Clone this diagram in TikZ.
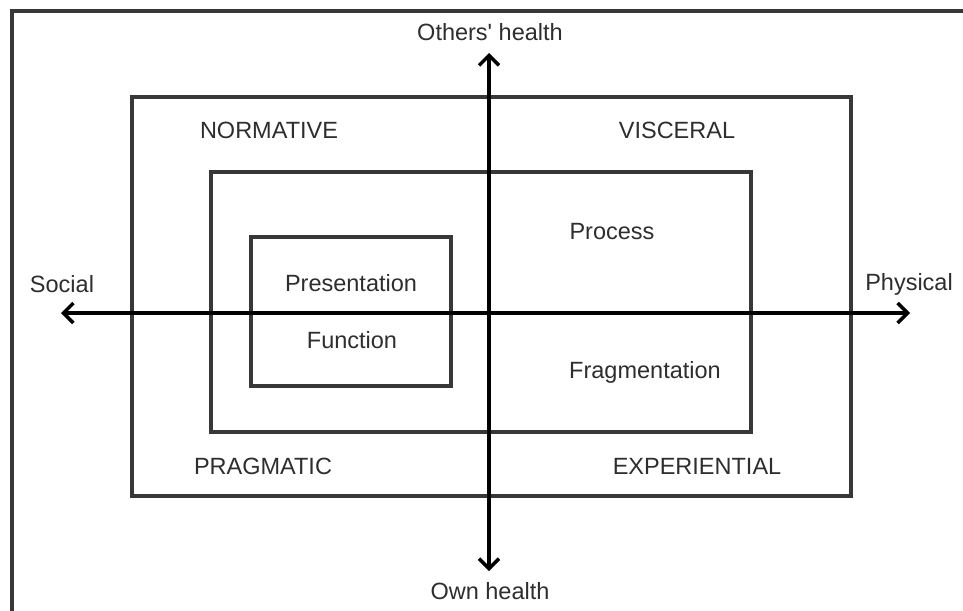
\documentclass[tikz,border=0pt]{standalone}
\usepackage{fontspec}
\setmainfont{Liberation Sans}
\usetikzlibrary{arrows.meta}
\begin{document}
\begin{tikzpicture}[x=1pt,y=-1pt,
  boxline/.style={draw=black!78, line width=3.4pt},
  axis/.style={draw=black, line width=3.4pt, {Straight Barb[length=10pt,width=20pt,line width=3.4pt]}-{Straight Barb[length=10pt,width=20pt,line width=3.4pt]}},
  lbl/.style={font=\fontsize{23.5}{26}\selectfont, text=black!82, inner sep=0pt}
]
\useasboundingbox (0,0) rectangle (963,610);
\fill[white] (0,0) rectangle (963,610);
% frame
\draw[boxline] (12,612) -- (12,11) -- (965,11);
% boxes
\node[boxline, minimum width=719pt, minimum height=399pt, inner sep=0pt] (outer) at (491.5,296.5) {};
\node[boxline, minimum width=540pt, minimum height=260pt, inner sep=0pt] (middle) at (481,302) {};
\node[boxline, minimum width=200pt, minimum height=149pt, inner sep=0pt] (inner) at (351,311.5) {};
% axes
\coordinate (top) at (489,53);
\coordinate (bottom) at (489,571);
\coordinate (left) at (61,313);
\coordinate (right) at (910,313);
\draw[axis] (bottom) -- (top);
\draw[axis] (left) -- (right);
% labels
\node[lbl] (others) at (490,32) {Others\textquotesingle\ health};
\node[lbl] (own) at (490,591) {Own health};
\node[lbl] (social) at (62,284) {Social};
\node[lbl] (physical) at (909,284) {Physical};
\node[lbl] (normative) at (269,130) {NORMATIVE};
\node[lbl] (visceral) at (677,130) {VISCERAL};
\node[lbl] (pragmatic) at (263,466) {PRAGMATIC};
\node[lbl] (experiential) at (697,466) {EXPERIENTIAL};
\node[lbl] (process) at (612,232) {Process};
\node[lbl] (fragmentation) at (645,372) {Fragmentation};
\node[lbl] (presentation) at (351,283) {Presentation};
\node[lbl] (function) at (352,340) {Function};
\end{tikzpicture}
\end{document}
